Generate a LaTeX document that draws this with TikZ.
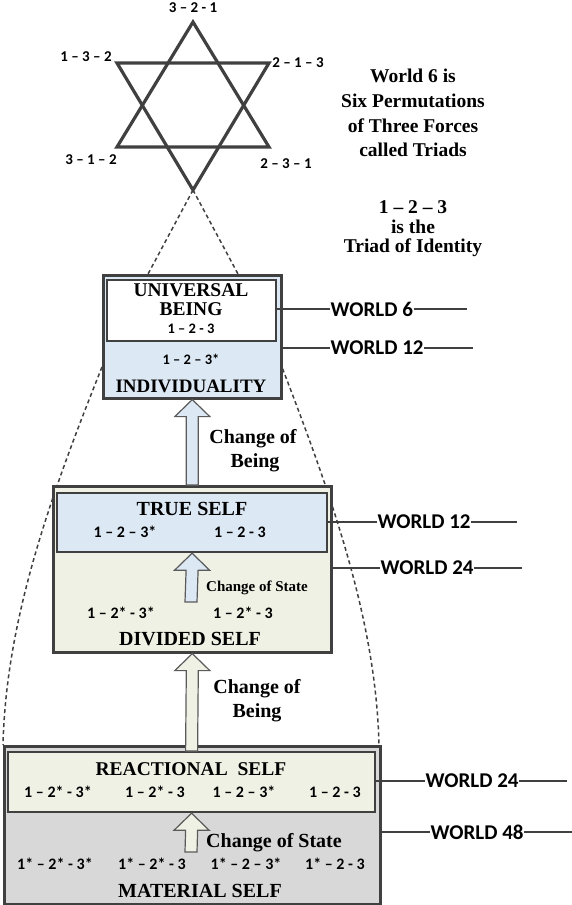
\documentclass[tikz,border=0pt]{standalone}
\usepackage{fontspec}
\setmainfont{Liberation Serif}
\newfontfamily\calib{Carlito}
\usetikzlibrary{calc}
\definecolor{dark}{RGB}{64,64,64}
\definecolor{agray}{RGB}{90,90,90}
\definecolor{lblue}{RGB}{220,232,244}
\definecolor{beige}{RGB}{240,241,229}
\definecolor{mgray}{RGB}{216,216,216}
\tikzset{
  hd/.style={font=\bfseries\fontsize{#1}{#1}\selectfont, anchor=base, inner sep=0pt, text=black},
  num/.style={font=\calib\bfseries\fontsize{#1}{#1}\selectfont, anchor=base, inner sep=0pt, text=black},
  wl/.style={font=\calib\bfseries\fontsize{21}{21}\selectfont, inner xsep=0.5pt, inner ysep=0pt, anchor=west},
  wline/.style={draw=dark, line width=2.6pt},
  outerbox/.style={draw=dark, line width=2.6pt, anchor=north west, inner sep=0pt},
  innerbox/.style={draw=dark, line width=2.2pt, anchor=north west, inner sep=0pt},
  envelope/.style={draw=dark, line width=1.5pt, dash pattern=on 4pt off 3pt},
  starline/.style={draw=dark, line width=3.2pt, line join=miter},
  blockarrow/.style={draw=agray, line width=1.2pt, line join=miter},
}
\newcommand\blockarr[3]{%
  \draw[blockarrow, fill=#1] (#2) -- ++(17.5,17) -- ++(-11.5,0) -- ($(#3)+(6,0)$)
     -- ++(-12,0) -- ($(#2)+(-6,17)$) -- ++(-11.5,0) -- cycle;}
\begin{document}
\begin{tikzpicture}[x=1pt,y=-1pt]
\useasboundingbox (0,0) rectangle (572,905);

% star
\coordinate (sT) at (193,22);
\coordinate (sBL) at (117,147);
\coordinate (sBR) at (269,147);
\coordinate (sB) at (193,190);
\coordinate (sTL) at (117,63);
\coordinate (sTR) at (269,63);
\draw[starline] (sT) -- (sBL) -- (sBR) -- cycle;
\draw[starline] (sB) -- (sTL) -- (sTR) -- cycle;

\node[num=15] (p321) at (193,12) {3 – 2 - 1};
\node[num=15] (p132) at (86,61) {1 – 3 – 2};
\node[num=15] (p213) at (298,67) {2 – 1 – 3};
\node[num=15] (p312) at (91,164) {3 – 1 – 2};
\node[num=15] (p231) at (286,168) {2 – 3 – 1};

% right text
\node[hd=19.5] (r1) at (413,82) {World 6 is};
\node[hd=19.5] (r2) at (413,107) {Six Permutations};
\node[hd=19.5] (r3) at (413,132) {of Three Forces};
\node[hd=19.5] (r4) at (413,156) {called Triads};
\node[hd=19.5] (r5) at (413,213) {1 – 2 – 3};
\node[hd=19.5] (r6) at (413,233) {is the};
\node[hd=19.5] (r7) at (413,252) {Triad of Identity};

% dashed envelope
\draw[envelope] (sB) -- (148,274);
\draw[envelope] (sB) -- (238,274);
\draw[envelope] (102,367) .. controls (50,497) and (6,620) .. (3,745);
\draw[envelope] (280,362) .. controls (332,497) and (376,620) .. (379,745);

% boxes
\node[outerbox, fill=lblue, minimum width=178pt, minimum height=123pt] (ob1) at (102,274) {};
\node[innerbox, fill=white, minimum width=169pt, minimum height=61pt] (ub) at (106,279) {};
\node[outerbox, fill=beige, minimum width=278pt, minimum height=166pt] (ob2) at (52,485) {};
\node[innerbox, fill=lblue, minimum width=270pt, minimum height=59pt] (ts) at (56,492) {};
\node[outerbox, fill=mgray, minimum width=376pt, minimum height=158pt] (ob3) at (3,745) {};
\node[innerbox, fill=beige, minimum width=367pt, minimum height=60pt] (rs) at (7,751) {};

% arrows
\coordinate (a2b) at (191,602);
\coordinate (a4b) at (191,852);
\blockarr{lblue}{ob1.south}{ob2.north}
\blockarr{lblue}{ts.south}{a2b}
\blockarr{beige}{ob2.south}{rs.north}
\blockarr{beige}{rs.south}{a4b}

% top box text
\node[hd=19.5] (t1) at (191,296) {UNIVERSAL};
\node[hd=19.5] (t2) at (191,315) {BEING};
\node[num=14.5] (t3) at (191,333) {1 – 2 - 3};
\node[num=14.5] (t4) at (191,364) {1 – 2 – 3*};
\node[hd=19] (t5) at (191,392) {INDIVIDUALITY};

\node[hd=20] (c1) at (253,443) {Change of};
\node[hd=20] (c2) at (255,467) {Being};

% middle box text
\node[hd=20] (m1) at (192,515) {TRUE SELF};
\node[num=16] (m2) at (125,537) {1 – 2 – 3*};
\node[num=16] (m3) at (240,537) {1 – 2 - 3};
\node[hd=15] (m4) at (257,591) {Change of State};
\node[num=16] (m5) at (121,618) {1 – 2* - 3*};
\node[num=16] (m6) at (243,618) {1 – 2* - 3};
\node[hd=20] (m7) at (190,645) {DIVIDED SELF};

\node[hd=20] (c3) at (257,693) {Change of};
\node[hd=20] (c4) at (257,717) {Being};

% bottom box text
\node[hd=19.5] (b1) at (191,775) {REACTIONAL\ \ SELF};
\node[num=16] (b2) at (58,797) {1 – 2* - 3*};
\node[num=16] (b3) at (155,797) {1 – 2* - 3};
\node[num=16] (b4) at (244,797) {1 – 2 – 3*};
\node[num=16] (b5) at (335,797) {1 – 2 - 3};
\node[hd=20] (b6) at (274,847) {Change of State};
\node[num=16] (b7) at (55,869) {1* – 2* - 3*};
\node[num=16] (b8) at (152,869) {1* – 2* - 3};
\node[num=16] (b9) at (246,869) {1* – 2 – 3*};
\node[num=16] (b10) at (335,869) {1* – 2 - 3};
\node[hd=20] (b11) at (200,897) {MATERIAL SELF};

% world labels
\node[wl] (w6) at (330,309) {WORLD 6};
\node[wl] (w12a) at (330,348) {WORLD 12};
\node[wl] (w12b) at (377,522) {WORLD 12};
\node[wl] (w24a) at (380,568) {WORLD 24};
\node[wl] (w24b) at (425,781) {WORLD 24};
\node[wl] (w48) at (430,832) {WORLD 48};
\coordinate (e6) at (467,309);
\coordinate (e12a) at (473,348);
\coordinate (e12b) at (517,522);
\coordinate (e24a) at (522,568);
\coordinate (e24b) at (567,781);
\coordinate (e48) at (572,832);
\draw[wline] (ub.east |- w6.west) -- (w6.west) (w6.east) -- (e6);
\draw[wline] (ob1.east |- w12a.west) -- (w12a.west) (w12a.east) -- (e12a);
\draw[wline] (ts.east |- w12b.west) -- (w12b.west) (w12b.east) -- (e12b);
\draw[wline] (ob2.east |- w24a.west) -- (w24a.west) (w24a.east) -- (e24a);
\draw[wline] (rs.east |- w24b.west) -- (w24b.west) (w24b.east) -- (e24b);
\draw[wline] (ob3.east |- w48.west) -- (w48.west) (w48.east) -- (e48);
\end{tikzpicture}
\end{document}
